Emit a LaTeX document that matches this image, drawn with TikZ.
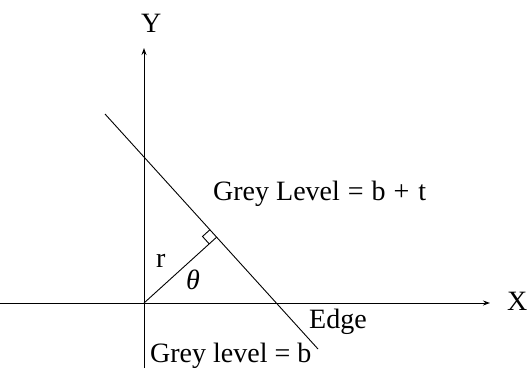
\documentclass[tikz,border=0pt]{standalone}
\usepackage{fontspec}
\setmainfont{Liberation Serif}
\usetikzlibrary{calc,arrows.meta}
\tikzset{
  axis/.style={line width=1pt,-{Stealth[length=7pt,width=5pt]}},
  thin line/.style={line width=0.9pt},
  lbl/.style={inner sep=0pt,anchor=base west,font=\fontsize{28}{31}\selectfont}
}
\begin{document}
\begin{tikzpicture}[x=1pt,y=-1pt]
\useasboundingbox (0,0) rectangle (530,368);
% coordinates
\coordinate (O) at (144,303);
\coordinate (Xs) at (0,303);
\coordinate (Xe) at (490,303);
\coordinate (Yb) at (144,368);
\coordinate (Ye) at (144,48);
\coordinate (E1) at (105,114);
\coordinate (E2) at (318,349);
\coordinate (F) at ($(E1)!(O)!(E2)$);
\coordinate (A) at ($(F)!10pt!(O)$);
\coordinate (B) at ($(F)!10pt!(E1)$);
\coordinate (C) at ($(A)+(B)-(F)$);
% axes
\draw[axis] (Xs) -- (Xe);
\draw[axis] (Yb) -- (Ye);
% edge
\draw[thin line] (E1) -- (E2);
% perpendicular
\draw[thin line] (O) -- (F);
\draw[thin line] (A) -- (C) -- (B);
% labels
\node[lbl] (ylab) at (141,32) {Y};
\node[lbl] (xlab) at (507,310) {X};
\node[lbl] (rlab) at (156,267) {r};
\node[lbl] (thlab) at (186,289) {\textit{θ}};
\node[lbl] (gl1) at (213,200) {Grey Level\hspace{8pt}=\hspace{8pt}b\hspace{8pt}+\hspace{9pt}t};
\node[lbl] (edge) at (309,328) {Edge};
\node[lbl] (gl2) at (150,362) {Grey level = b};
\end{tikzpicture}
\end{document}
